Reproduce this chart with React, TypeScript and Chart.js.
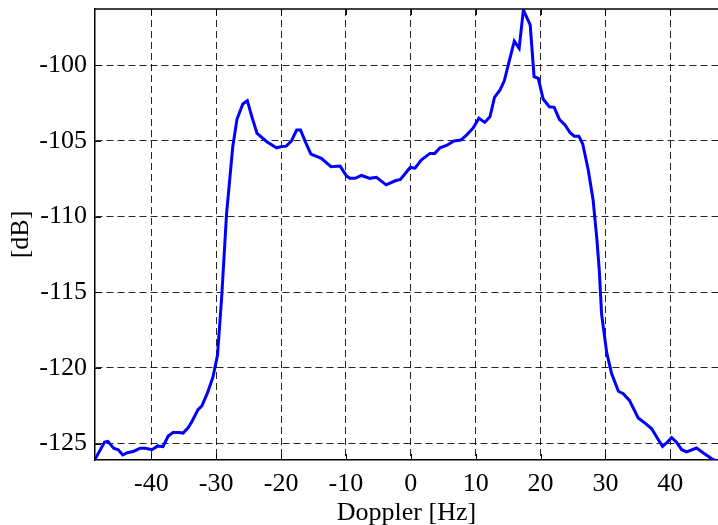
import { useEffect, useRef } from "react";
import { Chart, registerables } from "chart.js";

Chart.register(...registerables);

const dopplerHz = [
  -48.7, -47.2, -46.7, -45.8, -45.1, -44.4, -43.7, -42.7, -41.7, -40.9,
  -39.9, -39.0, -38.2, -37.4, -36.65, -35.7, -35.1, -34.3, -33.7, -32.8,
  -32.2, -31.3, -30.5, -29.8, -29.15, -28.4, -27.45, -26.8, -25.9, -25.2,
  -24.5, -23.7, -22.2, -20.7, -20.05, -19.2, -18.4, -17.6, -17.0, -16.15,
  -15.4, -13.8, -12.3, -10.9, -9.9, -9.4, -8.6, -7.6, -6.3, -5.3,
  -3.8, -2.4, -1.6, -0.1, 0.65, 1.6, 2.95, 3.7, 4.5, 5.5,
  6.65, 7.7, 8.5, 9.6, 10.5, 11.4, 12.2, 12.9, 13.75, 14.4,
  15.15, 15.95, 16.7, 17.35, 18.4, 19.0, 19.65, 20.4, 21.35, 22.1,
  22.9, 23.8, 24.55, 25.2, 25.9, 26.5, 27.35, 28.1, 28.65, 29.05,
  29.4, 29.7, 30.2, 30.95, 32.0, 32.75, 33.7, 35.05, 36.1, 37.1,
  37.9, 38.8, 39.55, 40.2, 40.95, 41.75, 42.5, 44.05, 45.1, 46.4,
  47.15,
];

const powerDb = [
  -126.05, -124.9, -124.85, -125.3, -125.4, -125.75, -125.6, -125.5, -125.3, -125.3,
  -125.4, -125.15, -125.2, -124.5, -124.27, -124.27, -124.3, -123.94, -123.5, -122.75,
  -122.5, -121.6, -120.6, -119.16, -115.3, -109.8, -105.4, -103.57, -102.56, -102.34,
  -103.4, -104.5, -105.05, -105.45, -105.38, -105.34, -105.0, -104.28, -104.28, -105.16,
  -105.87, -106.15, -106.7, -106.66, -107.32, -107.47, -107.47, -107.28, -107.47, -107.4,
  -107.9, -107.63, -107.54, -106.75, -106.8, -106.26, -105.82, -105.82, -105.45, -105.3,
  -105.0, -104.94, -104.65, -104.15, -103.5, -103.77, -103.4, -102.12, -101.63, -101.04,
  -99.76, -98.4, -98.88, -96.34, -97.33, -100.75, -100.86, -102.23, -102.74, -102.78,
  -103.57, -103.95, -104.46, -104.68, -104.68, -105.2, -106.92, -108.9, -111.34, -113.54,
  -116.4, -117.4, -119.0, -120.37, -121.54, -121.7, -122.14, -123.3, -123.64, -124.0,
  -124.56, -125.18, -124.9, -124.6, -124.9, -125.4, -125.55, -125.29, -125.62, -126.0,
  -126.15,
];

const xTickValues = [-40, -30, -20, -10, 0, 10, 20, 30, 40];
const yTickValues = [-125, -120, -115, -110, -105, -100];

const xTitle = "Doppler [Hz]";
const yTitle = "[dB]";

const FONT = "'Liberation Serif', 'Times New Roman', serif";

export default function App() {
  const ref = useRef<HTMLCanvasElement>(null);

  useEffect(() => {
    const canvas = ref.current;
    if (!canvas) return;

    const framePlugin = {
      id: "frame",
      afterDatasetsDraw(chart: any) {
        const { ctx, chartArea } = chart;
        const xs = chart.scales.x;
        const ys = chart.scales.y;
        ctx.save();
        ctx.strokeStyle = "#000";
        ctx.lineWidth = 1.5;
        ctx.setLineDash([]);
        ctx.beginPath();
        ctx.moveTo(chartArea.left, chartArea.top);
        ctx.lineTo(chartArea.right, chartArea.top);
        ctx.stroke();
        ctx.lineWidth = 1;
        const tl = 6;
        ctx.beginPath();
        for (const v of xTickValues) {
          const px = Math.round(xs.getPixelForValue(v)) + 0.5;
          ctx.moveTo(px, chartArea.bottom);
          ctx.lineTo(px, chartArea.bottom - tl);
          ctx.moveTo(px, chartArea.top);
          ctx.lineTo(px, chartArea.top + tl);
        }
        for (const v of yTickValues) {
          const py = Math.round(ys.getPixelForValue(v)) + 0.5;
          ctx.moveTo(chartArea.left, py);
          ctx.lineTo(chartArea.left + tl, py);
        }
        ctx.stroke();
        ctx.restore();
      },
    };

    const chart = new Chart(canvas, {
      type: "line",
      data: {
        datasets: [
          {
            data: dopplerHz.map((x, i) => ({ x, y: powerDb[i] })),
            borderColor: "#0000ff",
            borderWidth: 3,
            pointRadius: 0,
            tension: 0,
            fill: false,
          },
        ],
      },
      options: {
        animation: false,
        responsive: false,
        devicePixelRatio: 1,
        layout: { padding: { top: 9, right: 0, left: 0, bottom: 0 } },
        plugins: {
          legend: { display: false },
          tooltip: { enabled: false },
        },
        scales: {
          x: {
            type: "linear",
            min: -48.68,
            max: 47.35,
            afterBuildTicks: (s: any) => {
              s.ticks = xTickValues.map((value) => ({ value }));
            },
            afterFit: (s: any) => {
              s.height = 65;
              s.paddingLeft = 0;
              s.paddingRight = 0;
            },
            grid: {
              color: "rgba(0,0,0,0.85)",
              lineWidth: 1,
              drawTicks: false,
            },
            border: { display: true, color: "#000", width: 1.5, dash: [7, 4] },
            ticks: {
              color: "#000",
              padding: 9,
              font: { family: FONT, size: 26 },
              maxRotation: 0,
            },
            title: {
              display: true,
              text: xTitle,
              color: "#000",
              font: { family: FONT, size: 26 },
              padding: { top: 0, bottom: -4 },
            },
          },
          y: {
            type: "linear",
            min: -126.08,
            max: -96.28,
            afterBuildTicks: (s: any) => {
              s.ticks = yTickValues.map((value) => ({ value }));
            },
            afterFit: (s: any) => {
              s.width = 95;
              s.paddingTop = 0;
              s.paddingBottom = 0;
            },
            grid: {
              color: "rgba(0,0,0,0.85)",
              lineWidth: 1,
              drawTicks: false,
            },
            border: { display: true, color: "#000", width: 1.5, dash: [7, 4] },
            ticks: {
              color: "#000",
              padding: 8,
              font: { family: FONT, size: 26 },
            },
            title: {
              display: true,
              text: yTitle,
              color: "#000",
              font: { family: FONT, size: 26 },
              padding: { top: 6, bottom: 0 },
            },
          },
        },
      },
      plugins: [framePlugin],
    });

    return () => chart.destroy();
  }, []);

  return (
    <div style={{ position: "fixed", left: 0, top: 0, width: 718, height: 525, background: "#fff" }}>
      <canvas ref={ref} width={718} height={525} style={{ display: "block" }} />
    </div>
  );
}
